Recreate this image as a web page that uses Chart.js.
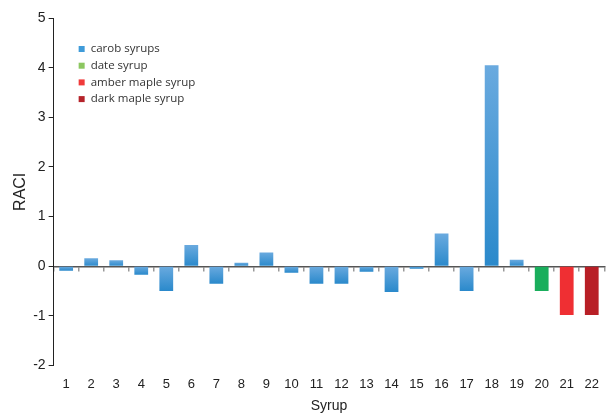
<!DOCTYPE html>
<html>
<head>
<meta charset="utf-8">
<script src="https://cdn.jsdelivr.net/npm/chart.js@4/dist/chart.umd.min.js"></script>
<style>
  html, body { margin: 0; padding: 0; background: #fff; }
  #wrap { width: 610px; height: 415px; }
</style>
</head>
<body>
<div id="wrap"><canvas id="chart-raci"></canvas></div>
<script>
'use strict';

// [ data ] start
var syrups = ['1', '2', '3', '4', '5', '6', '7', '8', '9', '10', '11',
              '12', '13', '14', '15', '16', '17', '18', '19', '20', '21', '22'];
var raci = [-0.09, 0.16, 0.12, -0.17, -0.5, 0.43, -0.35, 0.07, 0.28, -0.13, -0.35,
            -0.35, -0.11, -0.52, -0.05, 0.66, -0.5, 4.05, 0.13, -0.5, -0.98, -0.98];
// group index per syrup: 0 carob, 1 date, 2 amber maple, 3 dark maple
var syrupGroup = [0, 0, 0, 0, 0, 0, 0, 0, 0, 0, 0,
                  0, 0, 0, 0, 0, 0, 0, 0, 1, 2, 3];
var groupNames = ['carob syrups', 'date syrup', 'amber maple syrup', 'dark maple syrup'];
var groupColors = ['#3f9bd9', '#1aae5c', '#ef2f33', '#b81f26'];
var legendColors = ['#3f9bd9', '#8cc760', '#f03a3a', '#b5232a'];
var yTicks = [-2, -1, 0, 1, 2, 3, 4, 5];
// [ data ] end

var fontFamily = '"Liberation Sans", Arial, sans-serif';

function barColor(ctx) {
    var g = syrupGroup[ctx.dataIndex];
    if (g !== 0) return groupColors[g];
    var chart = ctx.chart;
    var y = chart.scales && chart.scales.y;
    if (!chart.chartArea || !y) return groupColors[0];
    var v = raci[ctx.dataIndex];
    var top = y.getPixelForValue(Math.max(v, 0));
    var bottom = y.getPixelForValue(Math.min(v, 0));
    if (!isFinite(top) || !isFinite(bottom) || top === bottom) return groupColors[0];
    var grad = chart.ctx.createLinearGradient(0, top, 0, bottom);
    grad.addColorStop(0, '#6aaadf');
    grad.addColorStop(1, '#2a89cb');
    return grad;
}

// legend drawn inside the plot area, top-left
var insideLegend = {
    id: 'insideLegend',
    afterDraw: function(chart) {
        var c = chart.ctx;
        var x0 = chart.chartArea.left + 25;
        var y0 = chart.chartArea.top + 31;
        c.save();
        c.font = '11.5px "Open Sans", sans-serif';
        c.textBaseline = 'middle';
        for (var i = 0; i < groupNames.length; i++) {
            var yy = y0 + i * 16.7;
            c.fillStyle = legendColors[i];
            c.fillRect(x0, yy - 3, 6, 6);
            c.fillStyle = '#333';
            c.fillText(groupNames[i], x0 + 12, yy);
        }
        c.restore();
    }
};

var ctx = document.getElementById('chart-raci').getContext('2d');
var raciChart = new Chart(ctx, {
    type: 'bar',
    data: {
        labels: syrups,
        datasets: [{
            data: raci,
            backgroundColor: barColor,
            borderWidth: 0,
            barPercentage: 0.55,
            categoryPercentage: 1.0
        }]
    },
    plugins: [insideLegend],
    options: {
        responsive: true,
        maintainAspectRatio: false,
        animation: false,
        layout: { padding: { top: 18, right: 1, left: 11, bottom: 0 } },
        plugins: {
            legend: { display: false },
            tooltip: { enabled: false }
        },
        scales: {
            x: {
                grid: { display: false, drawTicks: false },
                border: { display: false },
                ticks: {
                    color: '#222',
                    font: { family: fontFamily, size: 13 },
                    padding: 11,
                    maxRotation: 0,
                    autoSkip: false
                },
                title: {
                    display: true,
                    text: 'Syrup',
                    color: '#222',
                    font: { family: fontFamily, size: 14 },
                    padding: { top: -5, bottom: 0 }
                }
            },
            xZero: {
                type: 'category',
                position: { y: 0 },
                labels: syrups,
                offset: true,
                grid: {
                    offset: true,
                    drawOnChartArea: false,
                    drawTicks: true,
                    tickLength: 4,
                    color: '#999',
                    lineWidth: 1.5
                },
                border: { display: true, color: '#555', width: 1.5 },
                ticks: { display: false }
            },
            y: {
                min: -2,
                max: 5,
                afterBuildTicks: function(scale) {
                    scale.ticks = yTicks.map(function(v) { return { value: v }; });
                },
                grid: {
                    drawOnChartArea: false,
                    drawTicks: true,
                    tickLength: 5,
                    color: '#222'
                },
                border: { display: true, color: '#222', width: 1 },
                ticks: {
                    color: '#222',
                    font: { family: fontFamily, size: 14 },
                    padding: 3
                },
                title: {
                    display: true,
                    text: 'RACI',
                    color: '#222',
                    font: { family: fontFamily, size: 16 },
                    padding: { top: 0, bottom: 0 }
                }
            }
        }
    }
});
</script>
</body>
</html>
